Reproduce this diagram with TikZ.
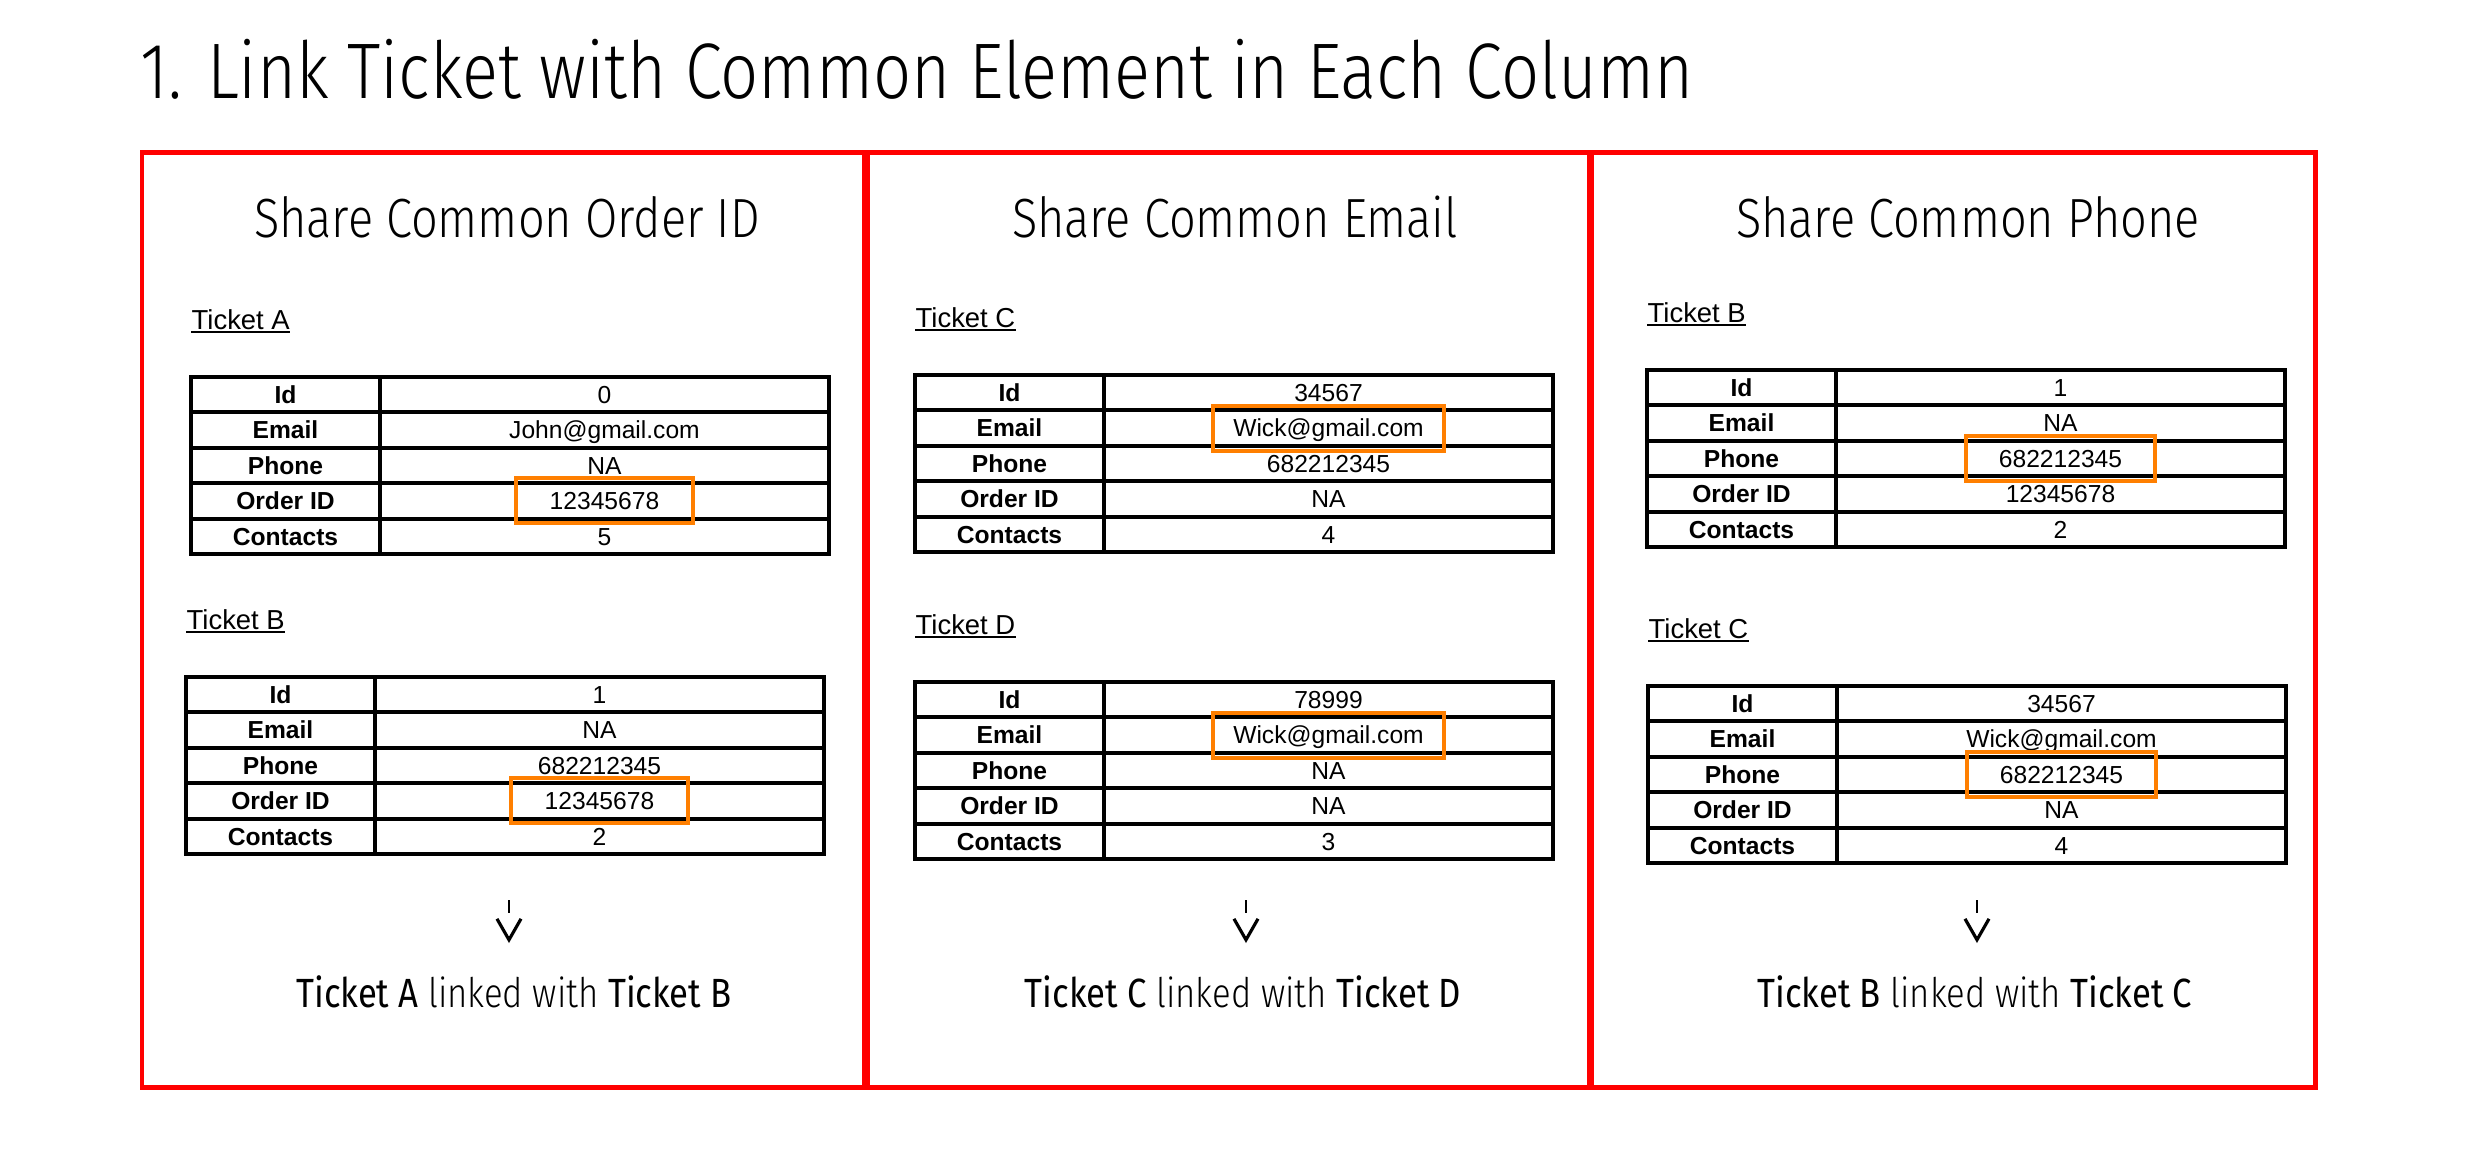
\documentclass[tikz,border=0pt]{standalone}
\usepackage{fontspec}
\setmainfont{Liberation Sans}
\newfontfamily\thinfont{Fira Sans Light}[FakeStretch=0.85]
\newfontfamily\plainfont{Fira Sans}[FakeStretch=0.85]
\usetikzlibrary{arrows.meta, positioning, calc}

\definecolor{panelred}{RGB}{255,0,0}
\definecolor{hlorange}{RGB}{255,127,0}

\tikzset{
	panel/.style = {draw=panelred, line width=1.42pt},
	tablegrid/.style = {line width=1.15pt},
	keycell/.style = {inner sep=0pt, text height=5pt, text depth=0pt, font=\bfseries\fontsize{7}{8}\selectfont},
	valcell/.style = {inner sep=0pt, text height=5pt, text depth=0pt, font=\fontsize{7}{8}\selectfont},
	ticketlabel/.style = {anchor=base west, inner sep=0pt, font=\fontsize{7.8}{9}\selectfont},
	ticketrule/.style = {line width=0.7pt},
	hlbox/.style = {draw=hlorange, line width=1.14pt, inner sep=0pt, minimum height=0.45cm},
	heading/.style = {anchor=base, inner sep=0pt, font=\thinfont\fontsize{15.7}{18}\selectfont},
	result/.style = {anchor=base, inner sep=0pt, font=\thinfont\fontsize{11.6}{14}\selectfont},
	linkarrow/.style = {line width=0.75pt, dash pattern=on 0.13cm off 1cm, -{Straight Barb[length=0.21cm, width=0.24cm, line width=0.9pt]}},
}

% #1 name, #2 label, #3 top left corner, #4-#8 values
\newcommand{\tickettable}[8]{%
	\begin{scope}[shift={#3}]
		\coordinate (#1) at (0,0);
		\node[ticketlabel] (#1-label) at (0,-48) {#2};
		\draw[ticketrule] ([yshift=-0.9pt]#1-label.base west) -- ([yshift=-0.9pt]#1-label.base east);
		\foreach \key/\val [count=\row] in {Id/#4, Email/#5, Phone/#6, Order ID/#7, Contacts/#8} {
			\node[keycell] (#1-k\row) at (94.5, {(\row-0.5)*35.4}) {\key};
			\node[valcell] (#1-v\row) at (413.5, {(\row-0.5)*35.4}) {\val};
		}
		\draw[tablegrid] (0,0) rectangle (638,177);
		\foreach \row in {1,...,4}
			\draw[tablegrid] (0,\row*35.4) -- (638,\row*35.4);
		\draw[tablegrid] (189,0) -- (189,177);
	\end{scope}}

\begin{document}
\begin{tikzpicture}[x=0.01cm, y=-0.01cm]
	\useasboundingbox (0,0) rectangle (2480,1153);
	%%%	Title
	\node[anchor=base west, inner sep=0pt, font=\thinfont\fontsize{22.4}{26}\selectfont] (title) at (140,98) {1. Link Ticket with Common Element in Each Column};
	%%%	Panels
	\draw[panel] (142,152) rectangle (864,1087);
	\draw[panel] (867,152) rectangle (1589,1087);
	\draw[panel] (1591,152) rectangle (2315,1087);
	\node[heading] (headOrder) at (507,237) {Share Common Order ID};
	\node[heading] (headEmail) at (1235,237) {Share Common Email};
	\node[heading] (headPhone) at (1968,237) {Share Common Phone};
	%%%	Order ID
	\tickettable{orderA}{Ticket A}{(191,377)}{0}{John@gmail.com}{NA}{12345678}{5}
	\tickettable{orderB}{Ticket B}{(186,677)}{1}{NA}{682212345}{12345678}{2}
	\node[hlbox, minimum width=1.77cm] (hlOrderA) at (orderA-v4) {};
	\node[hlbox, minimum width=1.77cm] (hlOrderB) at (orderB-v4) {};
	%%%	Email
	\tickettable{emailC}{Ticket C}{(915,375)}{34567}{Wick@gmail.com}{682212345}{NA}{4}
	\tickettable{emailD}{Ticket D}{(915,682)}{78999}{Wick@gmail.com}{NA}{NA}{3}
	\node[hlbox, minimum width=2.3cm] (hlEmailC) at (emailC-v2) {};
	\node[hlbox, minimum width=2.3cm] (hlEmailD) at (emailD-v2) {};
	%%%	Phone
	\tickettable{phoneB}{Ticket B}{(1647,370)}{1}{NA}{682212345}{12345678}{2}
	\tickettable{phoneC}{Ticket C}{(1648,686)}{34567}{Wick@gmail.com}{682212345}{NA}{4}
	\node[hlbox, minimum width=1.88cm] (hlPhoneB) at (phoneB-v3) {};
	\node[hlbox, minimum width=1.88cm] (hlPhoneC) at (phoneC-v3) {};
	%%%	Results
	\coordinate (arrOrder) at (509,900);
	\coordinate (arrOrderEnd) at (509,943);
	\coordinate (arrEmail) at (1246,900);
	\coordinate (arrEmailEnd) at (1246,943);
	\coordinate (arrPhone) at (1977,900);
	\coordinate (arrPhoneEnd) at (1977,943);
	\draw[linkarrow] (arrOrder) -- (arrOrderEnd);
	\draw[linkarrow] (arrEmail) -- (arrEmailEnd);
	\draw[linkarrow] (arrPhone) -- (arrPhoneEnd);
	\node[result] (resOrder) at (514,1007) {{\plainfont Ticket A} linked with {\plainfont Ticket B}};
	\node[result] (resEmail) at (1243,1007) {{\plainfont Ticket C} linked with {\plainfont Ticket D}};
	\node[result] (resPhone) at (1975,1007) {{\plainfont Ticket B} linked with {\plainfont Ticket C}};
\end{tikzpicture}
\end{document}
